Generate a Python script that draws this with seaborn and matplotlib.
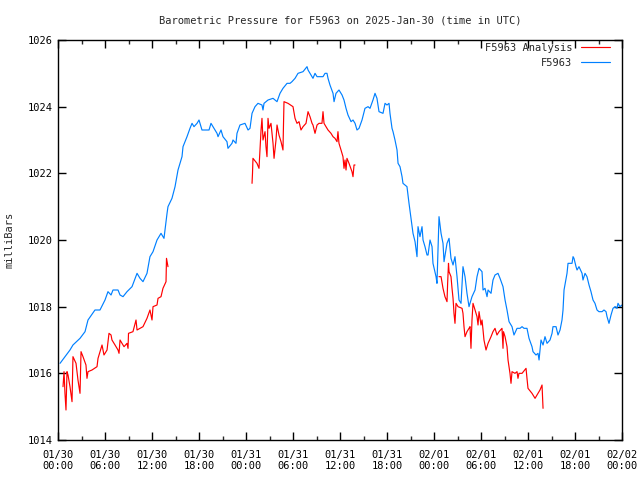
import numpy as np
import pandas as pd
import matplotlib
matplotlib.use("Agg")
import matplotlib.pyplot as plt
import matplotlib.dates as mdates
from matplotlib.lines import Line2D
import seaborn as sns

# ---------------- data (hours since 2025-01-30 00:00 UTC, millibars) ----------------
blue_hours = [0.26, 0.89, 1.53, 1.91, 2.81, 3.45, 3.83, 4.72, 5.36, 6.0, 6.38, 6.77, 7.02, 7.66,
              7.92, 8.3, 8.81, 9.45, 10.09, 10.47, 10.85, 11.36, 11.74, 12.13, 12.64, 13.15,
              13.53, 13.92, 14.04, 14.55, 14.94, 15.32, 15.83, 15.96, 16.47, 16.85, 17.11, 17.36,
              17.75, 18.0, 18.38, 19.28, 19.53, 19.79, 20.3, 20.43, 20.81, 21.06, 21.57, 21.7,
              22.21, 22.34, 22.72, 22.85, 23.23, 23.87, 24.26, 24.51, 24.77, 25.15, 25.53, 26.04,
              26.17, 26.3, 26.81, 27.45, 27.96, 28.34, 28.72, 29.24, 29.62, 29.87, 30.26, 30.64,
              31.28, 31.79, 31.92, 32.3, 32.55, 32.81, 33.07, 33.83, 34.09, 34.34, 34.47, 34.72,
              35.11, 35.24, 35.49, 35.87, 36.26, 36.51, 36.77, 37.02, 37.41, 37.66, 37.92, 38.17,
              38.43, 38.81, 39.19, 39.58, 39.83, 40.21, 40.47, 40.72, 40.98, 41.49, 41.75, 42.0,
              42.26, 42.38, 42.64, 42.77, 43.02, 43.28, 43.41, 43.66, 43.92, 44.04, 44.55, 44.81,
              45.07, 45.32, 45.58, 45.83, 45.96, 46.21, 46.47, 46.6, 46.85, 47.11, 47.24, 47.49,
              47.75, 47.87, 48.26, 48.38, 48.64, 48.9, 49.15, 49.28, 49.66, 49.92, 50.17, 50.43,
              50.68, 50.94, 51.19, 51.45, 51.7, 51.96, 52.21, 52.47, 52.85, 53.24, 53.49, 53.75,
              54.13, 54.26, 54.51, 54.77, 54.9, 55.28, 55.53, 55.79, 56.17, 56.43, 56.81, 57.07,
              57.32, 57.58, 57.96, 58.21, 58.6, 58.98, 59.24, 59.49, 59.87, 60.13, 60.51, 60.64,
              61.02, 61.28, 61.41, 61.66, 61.92, 62.17, 62.43, 62.81, 63.07, 63.19, 63.58, 63.83,
              64.09, 64.34, 64.47, 64.6, 64.98, 65.11, 65.62, 65.75, 65.87, 66.13, 66.26, 66.51,
              66.9, 67.02, 67.28, 67.53, 67.79, 68.04, 68.3, 68.55, 68.81, 69.06, 69.45, 69.7,
              69.96, 70.09, 70.34, 70.6, 70.85, 71.11, 71.36, 71.49, 71.74, 72.0]
blue_mb = [1016.3, 1016.5, 1016.7, 1016.85, 1017.05, 1017.25, 1017.6, 1017.9, 1017.9, 1018.2,
           1018.45, 1018.35, 1018.5, 1018.5, 1018.35, 1018.3, 1018.45, 1018.6, 1019.0, 1018.85,
           1018.75, 1019.0, 1019.5, 1019.65, 1020.0, 1020.2, 1020.05, 1020.8, 1021.0, 1021.25,
           1021.6, 1022.1, 1022.5, 1022.8, 1023.1, 1023.35, 1023.5, 1023.4, 1023.5, 1023.6,
           1023.3, 1023.3, 1023.5, 1023.4, 1023.2, 1023.1, 1023.3, 1023.1, 1022.95, 1022.75,
           1022.9, 1023.0, 1022.9, 1023.2, 1023.45, 1023.5, 1023.3, 1023.35, 1023.8, 1024.0,
           1024.1, 1024.05, 1023.9, 1024.1, 1024.2, 1024.25, 1024.15, 1024.4, 1024.55, 1024.7,
           1024.7, 1024.75, 1024.85, 1025.0, 1025.05, 1025.2, 1025.1, 1024.95, 1024.85, 1025.0,
           1024.9, 1024.9, 1025.0, 1025.0, 1024.85, 1024.65, 1024.4, 1024.15, 1024.4, 1024.5,
           1024.35, 1024.2, 1023.95, 1023.75, 1023.55, 1023.6, 1023.5, 1023.3, 1023.35, 1023.6,
           1023.95, 1024.0, 1023.95, 1024.2, 1024.4, 1024.25, 1023.85, 1023.8, 1024.1, 1024.05,
           1024.1, 1023.8, 1023.35, 1023.25, 1023.0, 1022.7, 1022.3, 1022.2, 1021.9, 1021.7,
           1021.6, 1021.1, 1020.65, 1020.2, 1019.95, 1019.5, 1020.4, 1020.1, 1020.4, 1020.0,
           1019.8, 1019.55, 1019.55, 1020.0, 1019.8, 1019.3, 1018.9, 1018.7, 1020.7, 1020.2,
           1019.9, 1019.35, 1019.9, 1020.05, 1019.45, 1019.25, 1019.5, 1018.9, 1018.2, 1018.1,
           1019.2, 1018.9, 1018.4, 1018.0, 1018.3, 1018.5, 1018.9, 1019.15, 1019.05, 1018.5,
           1018.55, 1018.3, 1018.5, 1018.4, 1018.8, 1018.95, 1019.0, 1018.85, 1018.6, 1018.2,
           1017.9, 1017.55, 1017.4, 1017.15, 1017.35, 1017.35, 1017.4, 1017.35, 1017.35, 1017.05,
           1016.8, 1016.65, 1016.55, 1016.6, 1016.4, 1017.0, 1016.85, 1017.1, 1016.9, 1017.0,
           1017.2, 1017.4, 1017.4, 1017.15, 1017.3, 1017.6, 1017.9, 1018.5, 1019.0, 1019.3,
           1019.3, 1019.5, 1019.45, 1019.2, 1019.1, 1019.2, 1019.0, 1018.8, 1019.0, 1018.9,
           1018.65, 1018.45, 1018.2, 1018.1, 1017.9, 1017.85, 1017.85, 1017.9, 1017.85, 1017.7,
           1017.5, 1017.75, 1017.95, 1018.0, 1017.95, 1018.1, 1018.0, 1018.05]

red_hours_1 = [0.64, 0.77, 0.89, 1.02, 1.15, 1.28, 1.53, 1.79, 1.91, 2.3, 2.55, 2.81, 2.94, 3.19,
               3.57, 3.7, 3.83, 4.34, 4.98, 5.11, 5.62, 5.87, 6.26, 6.51, 6.77, 6.89, 7.28, 7.66,
               7.79, 7.92, 8.17, 8.43, 8.81, 8.94, 9.0, 9.57, 9.96, 10.09, 10.47, 10.85, 11.36,
               11.74, 12.0, 12.13, 12.64, 12.77, 13.15, 13.4, 13.79, 13.85, 14.04]
red_mb_1 = [1015.6, 1016.05, 1015.4, 1014.9, 1016.05, 1015.95, 1015.6, 1015.15, 1016.5, 1016.3,
            1015.8, 1015.4, 1016.65, 1016.5, 1016.25, 1015.85, 1016.05, 1016.1, 1016.2, 1016.45,
            1016.85, 1016.55, 1016.7, 1017.2, 1017.15, 1017.0, 1016.85, 1016.7, 1016.6, 1017.0,
            1016.9, 1016.8, 1016.9, 1016.75, 1017.2, 1017.25, 1017.6, 1017.3, 1017.35, 1017.4,
            1017.65, 1017.9, 1017.6, 1018.0, 1018.05, 1018.25, 1018.3, 1018.55, 1018.75, 1019.45,
            1019.2]

red_hours_2 = [24.77, 24.83, 24.89, 25.4, 25.66, 25.92, 26.04, 26.17, 26.43, 26.55, 26.68, 26.81,
               26.94, 27.19, 27.45, 27.58, 27.83, 27.96, 28.21, 28.47, 28.72, 28.79, 28.85, 29.36,
               30.0, 30.26, 30.51, 30.77, 31.02, 31.28, 31.66, 31.92, 32.17, 32.43, 32.55, 32.81,
               33.07, 33.32, 33.7, 33.83, 33.96, 34.21, 34.47, 34.85, 35.11, 35.36, 35.62, 35.74,
               35.87, 36.13, 36.38, 36.51, 36.64, 36.77, 36.89, 37.15, 37.53, 37.66, 37.79, 37.92]
red_mb_2 = [1021.7, 1022.0, 1022.45, 1022.3, 1022.15, 1023.3, 1023.65, 1023.0, 1023.25, 1022.8,
            1022.5, 1023.65, 1023.35, 1023.5, 1022.9, 1022.45, 1023.0, 1023.45, 1023.15, 1022.95,
            1022.7, 1023.5, 1024.15, 1024.1, 1024.0, 1023.65, 1023.5, 1023.55, 1023.3, 1023.4,
            1023.5, 1023.85, 1023.7, 1023.5, 1023.45, 1023.2, 1023.45, 1023.5, 1023.5, 1023.85,
            1023.5, 1023.4, 1023.3, 1023.2, 1023.1, 1023.05, 1022.95, 1023.25, 1022.9, 1022.7,
            1022.5, 1022.15, 1022.4, 1022.1, 1022.45, 1022.3, 1022.05, 1021.9, 1022.25, 1022.25]

red_hours_3 = [48.64, 48.9, 49.15, 49.4, 49.66, 49.74, 49.85, 49.92, 50.17, 50.3, 50.43, 50.5,
               50.55, 50.68, 50.81, 51.07, 51.58, 51.7, 51.83, 51.96, 52.21, 52.47, 52.6, 52.72,
               52.85, 52.98, 53.24, 53.49, 53.62, 53.75, 54.0, 54.13, 54.26, 54.38, 54.64, 54.9,
               55.28, 55.53, 55.79, 56.04, 56.3, 56.68, 56.81, 56.87, 57.07, 57.32, 57.45, 57.7,
               57.83, 57.96, 58.34, 58.6, 58.72, 58.85, 59.24, 59.75, 59.87, 60.0, 60.51, 60.9,
               61.15, 61.53, 61.79, 61.92]
red_mb_3 = [1018.9, 1018.9, 1018.55, 1018.3, 1018.15, 1018.7, 1019.3, 1019.05, 1018.9, 1018.55,
            1018.25, 1018.0, 1017.8, 1017.5, 1018.1, 1018.0, 1017.95, 1017.8, 1017.4, 1017.1,
            1017.25, 1017.35, 1017.4, 1016.75, 1017.6, 1018.1, 1017.9, 1017.7, 1017.45, 1017.85,
            1017.45, 1017.6, 1017.3, 1017.0, 1016.7, 1016.9, 1017.1, 1017.25, 1017.35, 1017.15,
            1017.25, 1017.35, 1016.75, 1017.25, 1017.1, 1016.8, 1016.4, 1016.0, 1015.7, 1016.05,
            1016.0, 1016.05, 1015.85, 1016.0, 1016.0, 1016.15, 1015.85, 1015.55, 1015.4, 1015.25,
            1015.35, 1015.5, 1015.65, 1014.95]

y_ticks = [1014, 1016, 1018, 1020, 1022, 1024, 1026]
title = "Barometric Pressure for F5963 on 2025-Jan-30 (time in UTC)"
y_label = "milliBars"
label_analysis = "F5963 Analysis"
label_obs = "F5963"

# ---------------- build frames ----------------
t0 = pd.Timestamp("2025-01-30 00:00")
blue_df = pd.DataFrame({"time": t0 + pd.to_timedelta(blue_hours, unit="h"), "mb": blue_mb})
red_df = pd.concat([
    pd.DataFrame({"time": t0 + pd.to_timedelta(h, unit="h"), "mb": v, "seg": i})
    for i, (h, v) in enumerate([(red_hours_1, red_mb_1), (red_hours_2, red_mb_2), (red_hours_3, red_mb_3)])
], ignore_index=True)

# ---------------- style ----------------
sns.set_style("white")
plt.rcParams["font.family"] = ["DejaVu Sans Mono"]
FS = 7.5
RED = "#ff0000"
BLUE = "#0080ff"
LW = 0.85

fig = plt.figure(figsize=(6.4, 4.8), dpi=100)
ax = fig.add_axes([58 / 640, 1 - 440 / 480, 564 / 640, 400 / 480])

sns.lineplot(data=red_df, x="time", y="mb", units="seg", estimator=None, sort=False,
             color=RED, lw=LW, ax=ax, legend=False)
sns.lineplot(data=blue_df, x="time", y="mb", estimator=None, sort=False,
             color=BLUE, lw=LW, ax=ax, legend=False)

ax.set_xlim(t0, t0 + pd.Timedelta(hours=72))
ax.set_ylim(1014, 1026)
ax.set_yticks(y_ticks)
ax.set_yticklabels([str(v) for v in y_ticks], fontsize=FS)

ax.xaxis.set_major_locator(mdates.HourLocator(byhour=[0, 6, 12, 18]))
ax.xaxis.set_minor_locator(mdates.HourLocator(byhour=[3, 9, 15, 21]))
ax.xaxis.set_major_formatter(mdates.DateFormatter("%m/%d\n%H:%M"))
for lab in ax.get_xticklabels():
    lab.set_fontsize(FS)

ax.tick_params(axis="both", which="major", direction="in", length=6, width=1,
               top=True, right=True, bottom=True, left=True, colors="black", labelsize=FS)
ax.tick_params(axis="x", which="major", pad=7)
ax.tick_params(axis="y", which="major", pad=4)
ax.tick_params(axis="x", which="minor", direction="in", length=3, width=1,
               top=True, bottom=True)

for sp in ax.spines.values():
    sp.set_visible(True)
    sp.set_color("black")
    sp.set_linewidth(1)

ax.set_xlabel("")
ax.set_ylabel(y_label, fontsize=FS, labelpad=9)
ax.set_title(title, fontsize=FS, pad=12)
ax.grid(False)

handles = [Line2D([], [], color=RED, lw=LW), Line2D([], [], color=BLUE, lw=LW)]
ax.legend(handles, [label_analysis, label_obs], loc="upper right", frameon=False,
          markerfirst=False, fontsize=FS, handlelength=2.8, handletextpad=0.8,
          labelspacing=0.45, borderpad=0, borderaxespad=0,
          bbox_to_anchor=(1 - 12 / 564, 1 - 3 / 400))

fig.savefig("out.png", dpi=100)
